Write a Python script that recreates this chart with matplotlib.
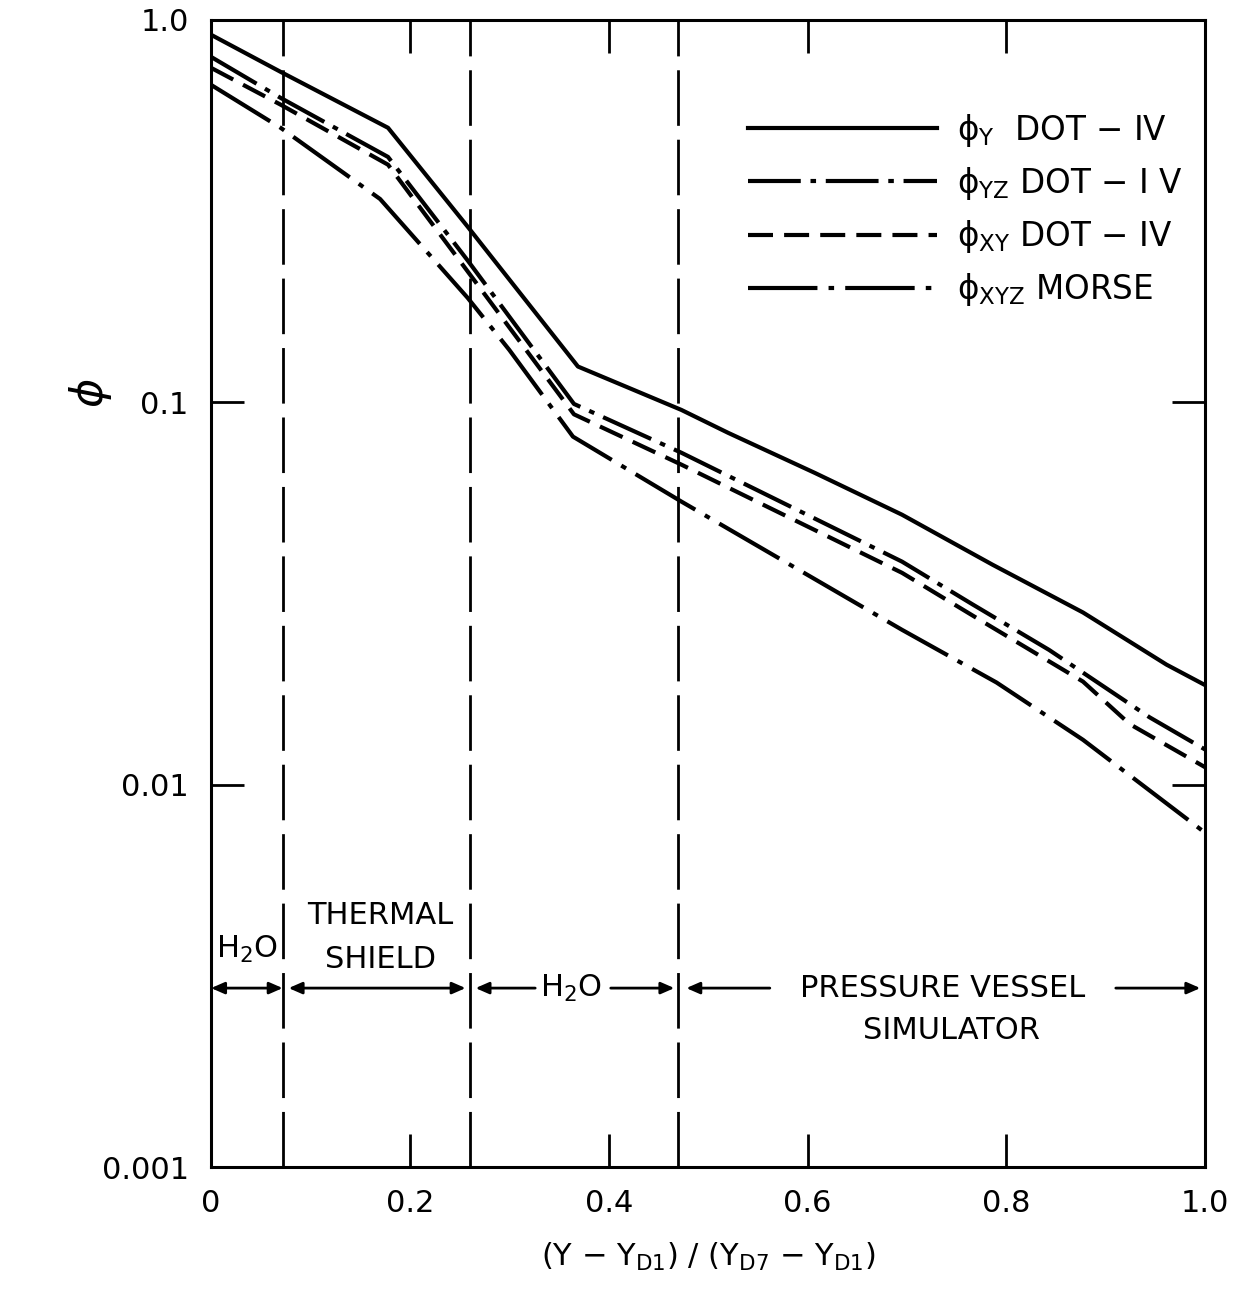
import matplotlib as mpl
import matplotlib.pyplot as plt
from matplotlib.lines import Line2D

mpl.rcParams['font.family'] = 'DejaVu Sans'
mpl.rcParams['lines.scale_dashes'] = False
mpl.rcParams['mathtext.fontset'] = 'dejavusans'

# curve data
x_y = [0.0, 0.07, 0.178, 0.258, 0.369, 0.473, 0.52, 0.607, 0.695, 0.786, 0.877, 0.961, 1.0]
phi_y = [0.914, 0.731, 0.522, 0.288, 0.124, 0.0955, 0.0832, 0.0654, 0.0508, 0.0376, 0.0282, 0.0206, 0.0182]

x_yz = [0.0, 0.07, 0.178, 0.258, 0.365, 0.473, 0.695, 0.766, 0.843, 0.944, 1.0]
phi_yz = [0.80, 0.625, 0.438, 0.235, 0.099, 0.0738, 0.0383, 0.0296, 0.0225, 0.0150, 0.01235]

x_xy = [0.0, 0.07, 0.178, 0.258, 0.365, 0.473, 0.695, 0.776, 0.877, 0.924, 1.0]
phi_xy = [0.749, 0.60, 0.418, 0.22, 0.093, 0.0687, 0.0358, 0.0267, 0.0186, 0.0144, 0.0111]

x_xyz = [0.0, 0.07, 0.17, 0.258, 0.30, 0.364, 0.473, 0.695, 0.79, 0.877, 1.0]
phi_xyz = [0.676, 0.522, 0.34, 0.1876, 0.137, 0.0813, 0.0550, 0.0254, 0.0185, 0.0131, 0.00748]

# region boundaries
bounds = [0.072, 0.26, 0.47]

xticks = [0, 0.2, 0.4, 0.6, 0.8, 1.0]
xticklabels = ["0", "0.2", "0.4", "0.6", "0.8", "1.0"]
yticks = [0.001, 0.01, 0.1, 1.0]
yticklabels = ["0.001", "0.01", "0.1", "1.0"]

labels = [r"ϕ$_{\rm Y}$  DOT $-$ IV", r"ϕ$_{\rm YZ}$ DOT $-$ I V",
          r"ϕ$_{\rm XY}$ DOT $-$ IV", r"ϕ$_{\rm XYZ}$ MORSE"]

lw = 3.0
sty_y = dict(color='black', lw=lw, ls='-')
sty_yz = dict(color='black', lw=lw, ls=(0, (38, 7, 4, 7)))
sty_xy = dict(color='black', lw=lw, ls=(0, (18, 8)))
sty_xyz = dict(color='black', lw=lw, ls=(0, (50, 8, 4, 8)))

fig = plt.figure(figsize=(12.49, 12.89), dpi=100)
ax = fig.add_axes([0.169, 0.0946, 0.796, 0.890])

ax.plot(x_y, phi_y, **sty_y)
ax.plot(x_yz, phi_yz, **sty_yz)
ax.plot(x_xy, phi_xy, **sty_xy)
ax.plot(x_xyz, phi_xyz, **sty_xyz)

for b in bounds:
    ax.axvline(b, color='black', lw=2.0, ls=(0, (40, 10)))

ax.set_yscale('log')
ax.set_xlim(0, 1.0)
ax.set_ylim(0.001, 1.0)
ax.set_xticks(xticks)
ax.set_xticklabels(xticklabels, fontsize=22)
ax.set_yticks(yticks)
ax.set_yticklabels(yticklabels, fontsize=22)
ax.minorticks_off()
ax.tick_params(direction='in', length=24, width=2, top=True, right=True, pad=16)

for s in ax.spines.values():
    s.set_linewidth(2.2)

ax.set_xlabel(r"(Y $-$ Y$_{\rm D1}$) / (Y$_{\rm D7}$ $-$ Y$_{\rm D1}$)", fontsize=22, labelpad=16)
ax.set_ylabel(r"$\phi$", fontsize=32, rotation=90)
ax.yaxis.set_label_coords(-0.098, 0.675)

# legend
handles = [Line2D([], [], **sty_y), Line2D([], [], **sty_yz),
           Line2D([], [], **sty_xy), Line2D([], [], **sty_xyz)]
leg = ax.legend(handles, labels, loc='upper right', bbox_to_anchor=(1.0, 0.94),
                frameon=False, fontsize=23.5, handlelength=5.8, labelspacing=0.5,
                handletextpad=0.6, borderaxespad=0.3)

# region annotations
tr = ax.get_xaxis_transform()
ya = 0.156
arr2 = dict(arrowstyle='<|-|>,head_width=0.35,head_length=0.8', color='black', lw=2, shrinkA=0, shrinkB=0)
arr1 = dict(arrowstyle='-|>,head_width=0.35,head_length=0.8', color='black', lw=2, shrinkA=0, shrinkB=0)

ax.annotate('', xy=(0.0, ya), xytext=(bounds[0], ya), xycoords=tr, textcoords=tr, arrowprops=arr2)
ax.annotate('', xy=(bounds[0] + 0.006, ya), xytext=(bounds[1] - 0.004, ya), xycoords=tr, textcoords=tr, arrowprops=arr2)
ax.annotate('', xy=(bounds[1] + 0.006, ya), xytext=(0.326, ya), xycoords=tr, textcoords=tr, arrowprops=arr1)
ax.annotate('', xy=(bounds[2] - 0.004, ya), xytext=(0.402, ya), xycoords=tr, textcoords=tr, arrowprops=arr1)
ax.annotate('', xy=(bounds[2] + 0.008, ya), xytext=(0.562, ya), xycoords=tr, textcoords=tr, arrowprops=arr1)
ax.annotate('', xy=(0.995, ya), xytext=(0.91, ya), xycoords=tr, textcoords=tr, arrowprops=arr1)

fs = 22
ax.text(0.036, 0.19, r"H$_2$O", transform=tr, ha='center', va='center', fontsize=fs)
ax.text(0.17, 0.219, "THERMAL", transform=tr, ha='center', va='center', fontsize=fs)
ax.text(0.17, 0.181, "SHIELD", transform=tr, ha='center', va='center', fontsize=fs)
ax.text(0.362, ya, r"H$_2$O", transform=tr, ha='center', va='center', fontsize=fs)
ax.text(0.736, ya, "PRESSURE VESSEL", transform=tr, ha='center', va='center', fontsize=fs)
ax.text(0.745, 0.119, "SIMULATOR", transform=tr, ha='center', va='center', fontsize=fs)

fig.savefig("out.png", dpi=100)
